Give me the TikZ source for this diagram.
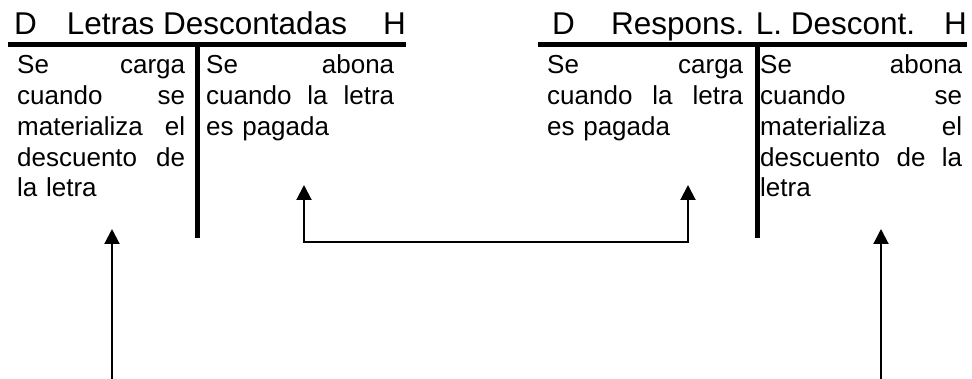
\documentclass[tikz,border=0pt]{standalone}
\usepackage{fontspec}
\setmainfont{Liberation Sans}
\usetikzlibrary{arrows.meta}

\begin{document}
\begin{tikzpicture}[x=1pt,y=-1pt]
  \tikzstyle{titulo}=[inner sep=0pt,font=\fontsize{31.5}{36}\selectfont]
  \tikzstyle{texto}=[inner sep=0pt,anchor=base west,align=left,font=\fontsize{26}{30.7}\selectfont]
  \tikzstyle{raya}=[line width=5pt]
  \tikzstyle{flecha}=[line width=2pt,>={Triangle[width=15pt,length=15pt]}]
  \useasboundingbox (0,0) rectangle (972,379);

  % cuenta Letras Descontadas
  \draw (14,35) node[titulo,anchor=base west] (dLD){D};
  \draw (207,35) node[titulo,anchor=base] (tLD){Letras Descontadas};
  \draw (406,35) node[titulo,anchor=base east] (hLD){H};
  \draw[raya] (8,44.5) -- (406,44.5);
  \draw[raya] (197,44.5) -- (197,238);
  \draw (17,74) node[texto,text width=168pt] (debeLD){Se\hfill carga\\ cuando\hfill se\\ materializa\hfill el\\ descuento\hfill de\\ la letra};
  \draw (206,74) node[texto,text width=188pt] (haberLD){Se\hfill abona\\ cuando\hfill la\hfill letra\\ es pagada};

  % cuenta Respons. L. Descont.
  \draw (552,35) node[titulo,anchor=base west] (dRLD){D};
  \draw (611,35) node[titulo,anchor=base west] (tRLD){Respons. L. Descont.};
  \draw (967,35) node[titulo,anchor=base east] (hRLD){H};
  \draw[raya] (538,44.5) -- (967,44.5);
  \draw[raya] (757.5,44.5) -- (757.5,238);
  \draw (547,74) node[texto,text width=196pt] (debeRLD){Se\hfill carga\\ cuando\hfill la\hfill letra\\ es pagada};
  \draw (760,74) node[texto,text width=202pt] (haberRLD){Se\hfill abona\\ cuando\hfill se\\ materializa\hfill el\\ descuento\hfill de\hfill la\\ letra};

  % flechas
  \coordinate (bajoLD) at (112,379);
  \coordinate (cargaLD) at (112,229);
  \coordinate (abonoLD) at (304,185);
  \coordinate (cargaRLD) at (688,185);
  \coordinate (bajoRLD) at (881,379);
  \coordinate (abonoRLD) at (881,229);

  \draw[flecha,->] (bajoLD) -- (cargaLD);
  \draw[flecha,<->] (abonoLD) -- ++(0,57) -| (cargaRLD);
  \draw[flecha,->] (bajoRLD) -- (abonoRLD);
\end{tikzpicture}
\end{document}
